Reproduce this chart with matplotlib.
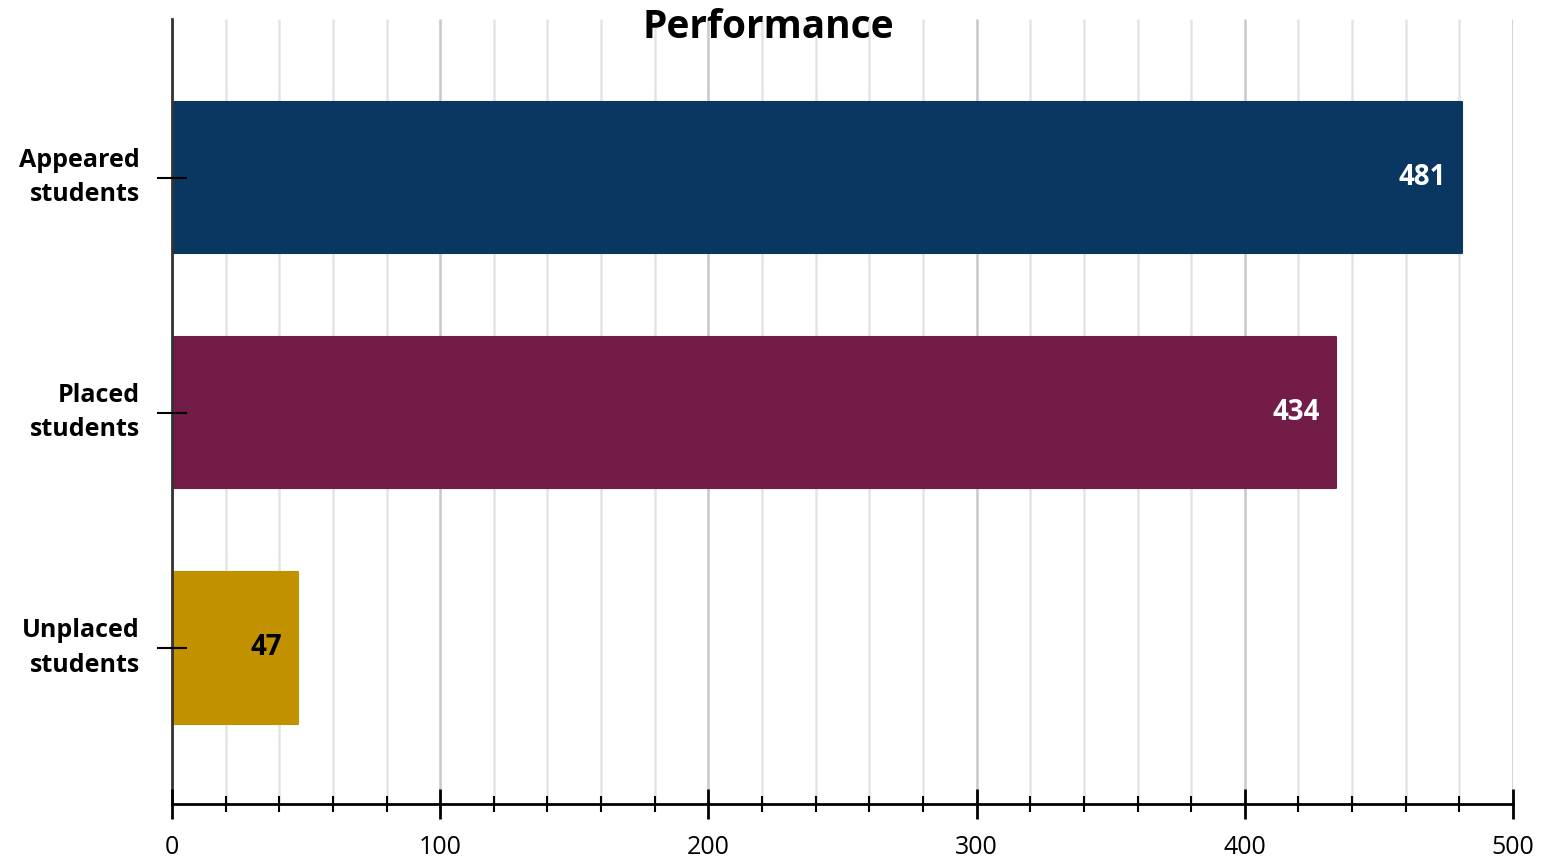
import numpy as np
import matplotlib.pyplot as plt
from matplotlib.ticker import MultipleLocator

categories = ['Appeared\nstudents', 'Placed\nstudents', 'Unplaced\nstudents']
values = [481, 434, 47]
bar_colors = ['#0a3761', '#721c47', '#c29100']
label_colors = ['white', 'white', 'black']

plt.rcParams['font.family'] = ['Open Sans', 'DejaVu Sans']


def main() -> None:
	fig = plt.figure(figsize=(15.45, 8.6), dpi=100)
	ax = fig.add_axes([0.1113, 0.065, 0.868, 0.913])

	y = np.arange(len(categories))
	bars = ax.barh(y, values, height=0.645, color=bar_colors, edgecolor=bar_colors,
				   linewidth=1.5, joinstyle='round', zorder=2)

	for bar, val, col in zip(bars, values, label_colors):
		ax.text(bar.get_width() - 6, bar.get_y() + bar.get_height() / 2, str(val),
				ha='right', va='center', color=col, fontsize=20, fontweight='bold', zorder=4)

	ax.set_xlim(0, 500)
	ax.set_ylim(2.665, -0.675)
	ax.set_yticks(y)
	ax.set_yticklabels(categories, fontsize=18, fontweight='bold', linespacing=1.5, va='center')
	ax.xaxis.set_major_locator(MultipleLocator(100))
	ax.xaxis.set_minor_locator(MultipleLocator(20))
	ax.tick_params(axis='x', which='major', direction='inout', length=21, width=2, labelsize=18, pad=12)
	ax.tick_params(axis='x', which='minor', direction='inout', length=11, width=1.5)
	ax.tick_params(axis='y', direction='inout', length=22, width=1.5, pad=12)

	# gridlines drawn by hand so the axis ticks can sit above the bars
	ax.vlines(ax.get_xticks(minor=True), 0, 1, transform=ax.get_xaxis_transform(),
			  colors='#e4e4e4', linewidth=1.8, zorder=0)
	ax.vlines(ax.get_xticks()[1:], 0, 1, transform=ax.get_xaxis_transform(),
			  colors='#c8c8c8', linewidth=1.8, zorder=0)
	ax.set_axisbelow(False)

	for side in ['top', 'right']:
		ax.spines[side].set_visible(False)
	ax.spines['bottom'].set_linewidth(2)
	ax.spines['left'].set_linewidth(2)
	ax.spines['left'].set_color('#333333')

	fig.text(0.497, 0.968, 'Performance', ha='center', va='center', fontsize=28, fontweight='bold')

	fig.savefig('out.png', dpi=100)


if __name__ == '__main__':
	main()
